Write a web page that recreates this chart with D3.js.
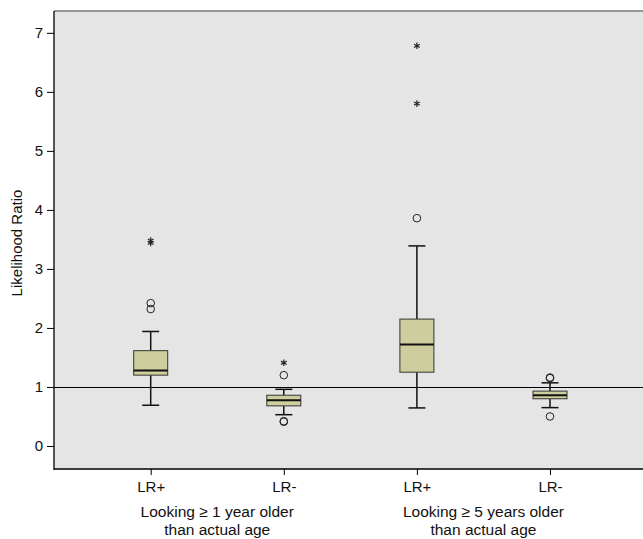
<!DOCTYPE html>
<html><head><meta charset="utf-8">
<script src="https://cdn.jsdelivr.net/npm/d3@7"></script>
<style>
body{margin:0;background:#fff;}
text{font-family:"Liberation Sans",Arial,Helvetica,sans-serif;}
</style></head>
<body>
<svg id="chart" width="643" height="539"></svg>
<script>
// ---- data ----
const categories = ["LR+", "LR-", "LR+", "LR-"];
const groupLabels = [["Looking \u2265 1 year older", "than actual age"], ["Looking \u2265 5 years older", "than actual age"]];
const whiskerLow  = [0.69, 0.53, 0.645, 0.65];
const q1          = [1.20, 0.68, 1.25, 0.80];
const median      = [1.28, 0.775, 1.72, 0.86];
const q3          = [1.615, 0.86, 2.15, 0.93];
const whiskerHigh = [1.94, 0.96, 3.39, 1.07];
const outliers    = [[2.32, 2.42], [1.20, 0.41, 0.42], [3.86], [1.15, 1.16, 0.50]];
const extremes    = [[3.44, 3.48], [1.41], [5.80, 6.78], []];
const yTicks      = [0, 1, 2, 3, 4, 5, 6, 7];
const refValue    = 1;

(function () {
// ---- layout ----
const svg = d3.select("#chart");
const pL = 54, pR = 643, pT = 11, pB = 469;
const FS = 15;

const y = d3.scaleLinear().domain([-0.39, 7.37]).range([pB, pT]);
const x = d3.scaleLinear().domain([0, 3]).range([150.7, 550]);
const boxW = 34, capW = 17;
const crisp = v => Math.round(v) + 0.5;

svg.append("rect").attr("x", pL).attr("y", pT).attr("width", pR - pL).attr("height", pB - pT)
  .attr("fill", "#e5e5e5");

// reference line
svg.append("line").attr("x1", pL).attr("x2", pR).attr("y1", crisp(y(refValue))).attr("y2", crisp(y(refValue)))
  .attr("stroke", "#000").attr("stroke-width", 1);

// y axis
const yAxis = d3.axisLeft(y).tickValues(yTicks).tickSize(7).tickPadding(4).tickFormat(d3.format("d"));
const gy = svg.append("g").attr("transform", `translate(${pL},0)`).call(yAxis);
gy.select(".domain").remove();
gy.selectAll("line").attr("stroke", "#000");
gy.selectAll("text").attr("font-size", FS).attr("fill", "#111").style("font-family", "Liberation Sans, Arial, sans-serif");

// x axis
const xAxis = d3.axisBottom(x).tickValues([0, 1, 2, 3]).tickSize(6).tickPadding(6)
  .tickFormat((d, i) => categories[i]);
const gx = svg.append("g").attr("transform", `translate(0,${pB})`).call(xAxis);
gx.select(".domain").remove();
gx.selectAll("line").attr("stroke", "#000");
gx.selectAll("text").attr("font-size", FS).attr("fill", "#111").style("font-family", "Liberation Sans, Arial, sans-serif");

// frame
svg.append("line").attr("x1", pL).attr("x2", pR).attr("y1", pT).attr("y2", pT).attr("stroke", "#777").attr("stroke-width", 1.5);
svg.append("line").attr("x1", pL).attr("x2", pL).attr("y1", pT).attr("y2", pB + 1).attr("stroke", "#000").attr("stroke-width", 1.3);
svg.append("line").attr("x1", pL).attr("x2", pR).attr("y1", pB).attr("y2", pB).attr("stroke", "#000").attr("stroke-width", 1.5);

// group labels
groupLabels.forEach((lines, gi) => {
  const cx = (x(2 * gi) + x(2 * gi + 1)) / 2;
  lines.forEach((t, k) => {
    svg.append("text").attr("x", cx).attr("y", 516.5 + k * 18.5).attr("text-anchor", "middle")
      .attr("font-size", FS + 0.5).attr("fill", "#111").text(t);
  });
});

// y label
svg.append("text").attr("transform", `translate(18,${(pT + pB) / 2 + 3}) rotate(-90)`)
  .attr("text-anchor", "middle").attr("dominant-baseline", "middle")
  .attr("font-size", FS).attr("fill", "#111").text("Likelihood Ratio");

// boxes
const idx = d3.range(categories.length);
const g = svg.append("g");
idx.forEach(i => {
  const cx = x(i);
  g.append("line").attr("x1", cx).attr("x2", cx).attr("y1", y(whiskerHigh[i])).attr("y2", y(q3[i])).attr("stroke", "#111").attr("stroke-width", 1.5);
  g.append("line").attr("x1", cx).attr("x2", cx).attr("y1", y(q1[i])).attr("y2", y(whiskerLow[i])).attr("stroke", "#111").attr("stroke-width", 1.5);
  g.append("line").attr("x1", cx - capW / 2).attr("x2", cx + capW / 2).attr("y1", y(whiskerHigh[i])).attr("y2", y(whiskerHigh[i])).attr("stroke", "#111").attr("stroke-width", 1.5);
  g.append("line").attr("x1", cx - capW / 2).attr("x2", cx + capW / 2).attr("y1", y(whiskerLow[i])).attr("y2", y(whiskerLow[i])).attr("stroke", "#111").attr("stroke-width", 1.5);
  g.append("rect").attr("x", cx - boxW / 2).attr("y", y(q3[i])).attr("width", boxW).attr("height", y(q1[i]) - y(q3[i]))
    .attr("fill", "#cdcd9d").attr("stroke", "#333").attr("stroke-width", 1);
  g.append("line").attr("x1", cx - boxW / 2).attr("x2", cx + boxW / 2).attr("y1", y(median[i])).attr("y2", y(median[i])).attr("stroke", "#111").attr("stroke-width", 2);
  outliers[i].forEach(v => {
    g.append("circle").attr("cx", cx).attr("cy", y(v)).attr("r", 3.8).attr("fill", "none").attr("stroke", "#222").attr("stroke-width", 1);
  });
  extremes[i].forEach(v => {
    g.append("path").attr("transform", `translate(${cx},${y(v)})`)
      .attr("d", d3.symbol().type(d3.symbolAsterisk).size(30)())
      .attr("fill", "none").attr("stroke", "#222").attr("stroke-width", 1.2);
  });
});
})();
</script>
</body></html>
